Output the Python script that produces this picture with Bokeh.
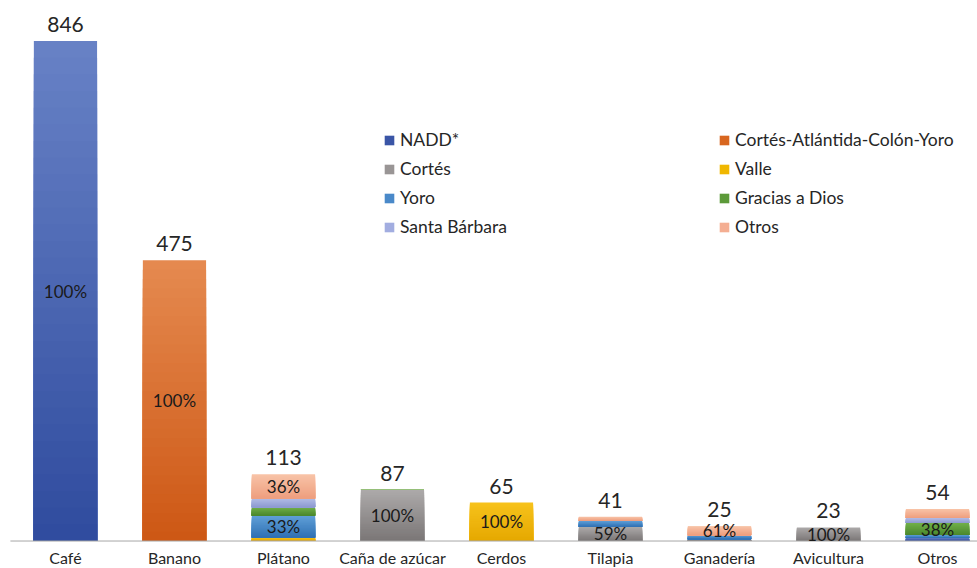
from bokeh.plotting import figure
from bokeh.models import ColumnDataSource, Range1d, Legend, LegendItem
from bokeh.core.properties import value
from bokeh.embed import file_html
from bokeh.resources import INLINE

categories = ["Café", "Banano", "Plátano", "Caña de azúcar", "Cerdos",
              "Tilapia", "Ganadería", "Avicultura", "Otros"]
totals = [846, 475, 113, 87, 65, 41, 25, 23, 54]

series_names = ["NADD*", "Cortés-Atlántida-Colón-Yoro", "Cortés", "Valle",
                "Yoro", "Gracias a Dios", "Santa Bárbara", "Otros"]
nadd   = [846, 0,   0,  0,    0,  0,  0,     0,  5]
cacy   = [0,   475, 0,  0,    0,  0,  0,     0,  0]
cortes = [0,   0,   0,  86.6, 0,  24, 3,     23, 0]
valle  = [0,   0,   6,  0,    65, 0,  0,     0,  0]
yoro   = [0,   0,   37, 0,    0,  10, 6.75,  0,  5]
gad    = [0,   0,   14, 0.4,  0,  0,  0,     0,  20.5]
sb     = [0,   0,   15, 0,    0,  0,  0,     0,  8.5]
otros  = [0,   0,   41, 0,    0,  7,  15.25, 0,  15]
series_values = [nadd, cacy, cortes, valle, yoro, gad, sb, otros]

# (top/light, bottom/dark, legend)
colors = [("#6882c6", "#2f4b9e", "#3a55a6"),
          ("#e58a50", "#cd5714", "#d8661f"),
          ("#adaaaa", "#7a7676", "#999595"),
          ("#f7c21c", "#e5a800", "#f0b700"),
          ("#60a0d8", "#3070b3", "#4a89c9"),
          ("#72b04a", "#4a872c", "#5c9a39"),
          ("#b3bde6", "#8c99d0", "#a2ade0"),
          ("#f8c4a8", "#ee9e7e", "#f4ae92")]


def hex2rgb(h):
    h = h.lstrip("#")
    return tuple(int(h[i:i + 2], 16) for i in (0, 2, 4))


def mix(c1, c2, t):
    a, b = hex2rgb(c1), hex2rgb(c2)
    return "#%02x%02x%02x" % tuple(int(round(a[i] + (b[i] - a[i]) * t)) for i in range(3))


N = 30
xs, bots, tops, cols = [], [], [], []
lx, ly, lt = [], [], []
base = [0.0] * len(categories)
for s_idx, vals in enumerate(series_values):
    light, dark, _ = colors[s_idx]
    for i, v in enumerate(vals):
        if v <= 0:
            continue
        b = base[i]
        # overlapping slices, tallest first, give a vertical gradient without seams
        for k in range(N - 1, -1, -1):
            xs.append(i)
            bots.append(b)
            tops.append(b + v * (k + 1) / N)
            cols.append(mix(dark, light, (k + 0.5) / N))
        share = v / totals[i]
        if share >= 0.30:
            lx.append(i)
            ly.append(b + v / 2)
            lt.append("%d%%" % round(share * 100))
        base[i] += v

p = figure(width=977, height=568, output_backend="svg", toolbar_location=None,
           x_range=Range1d(-0.596, 8.367), y_range=Range1d(-46.5, 914.5),
           min_border_left=0, min_border_right=0, min_border_top=0, min_border_bottom=0)
p.outline_line_color = None
p.xgrid.visible = False
p.ygrid.visible = False
p.xaxis.visible = False
p.yaxis.visible = False

src = ColumnDataSource(dict(x=xs, bottom=bots, top=tops, color=cols))
p.vbar(x="x", bottom="bottom", top="top", width=0.58, fill_color="color",
       line_color=None, source=src)

# category axis line
p.segment(x0=[-0.505], x1=[8.367], y0=[0], y1=[0], line_color="#a6a6a6", line_width=1)

p.text(x=list(range(len(categories))), y=[0] * len(categories), text=categories,
       text_align="center", text_baseline="middle", y_offset=16,
       text_font=value("Lato"), text_font_size="16px", text_color="#262626")

p.text(x=list(range(len(categories))), y=totals, text=[str(t) for t in totals],
       text_align="center", text_baseline="bottom", y_offset=-9,
       text_font=value("Lato"), text_font_size="21px", text_color="#262626")
p.text(x=lx, y=ly, text=lt, text_align="center", text_baseline="middle",
       text_font=value("Lato"), text_font_size="17px", text_color="#1a1a1a")

items = []
for name, (light, dark, mid) in zip(series_names, colors):
    r = p.vbar(x=[0], top=[0], bottom=[0], width=0.01, fill_color=mid, line_color=None)
    items.append(LegendItem(label=name, renderers=[r]))


def make_legend(its, loc):
    return Legend(items=its, location=loc, glyph_width=12, glyph_height=12,
                  label_standoff=5, label_text_font="Lato", label_text_font_size="17.5px",
                  label_text_color="#262626", spacing=8, padding=0, margin=0,
                  label_height=20, border_line_color=None, background_fill_alpha=0)


p.add_layout(make_legend(items[0::2], (383, 331)))
p.add_layout(make_legend(items[1::2], (718, 331)))

open("out.html", "w").write(file_html(p, INLINE))
